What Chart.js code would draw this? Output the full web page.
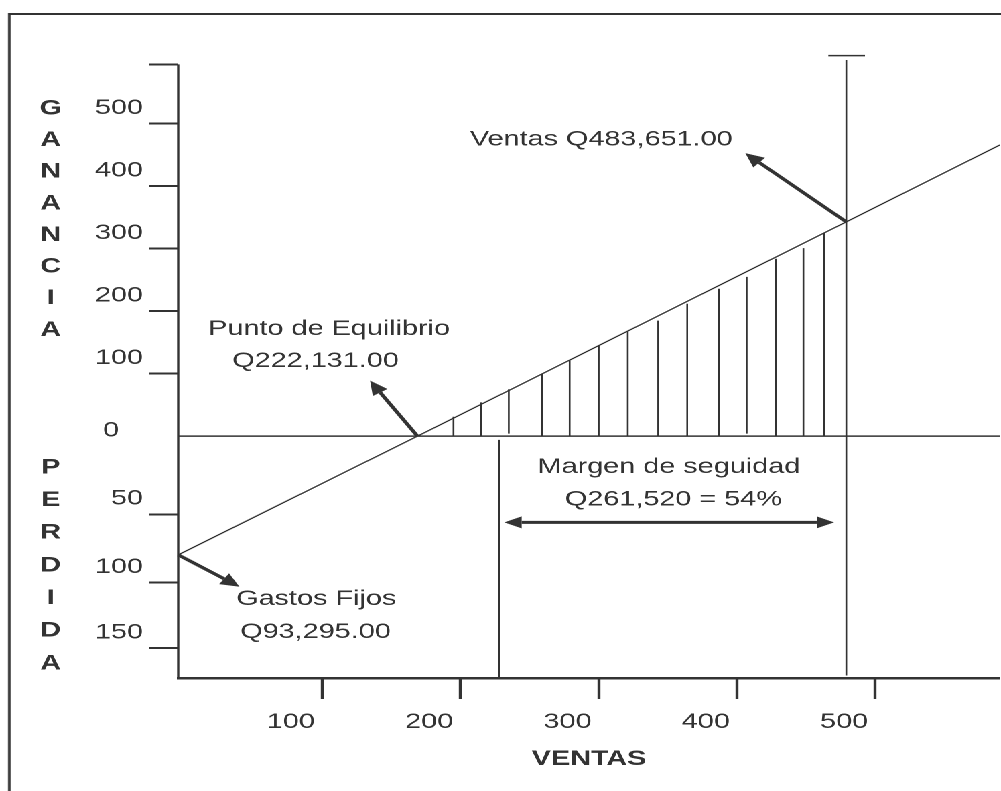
<!DOCTYPE html>
<html lang="es">
<head>
<meta charset="UTF-8">
<title>Punto de Equilibrio</title>
<script src="https://cdn.jsdelivr.net/npm/chart.js@4.4.1/dist/chart.umd.min.js"></script>
<style>
    body {
        margin: 0;
        background: #fff;
        overflow: hidden;
    }

    .page {
        position: relative;
        width: 1001px;
        height: 791px;
        overflow: hidden;
    }

    /* the original drawing is stretched sideways, so the whole chart is too */
    .stretch {
        position: absolute;
        left: 0;
        top: 0;
        width: 747px;
        height: 791px;
        transform: scaleX(1.34);
        transform-origin: 0 0;
    }

    .frame {
        position: absolute;
        left: 6.2px;
        top: 13.3px;
        width: 1000px;
        height: 1000px;
        border-left: 2.5px solid #333;
        border-top: 2px solid #333;
    }

    .chart-box {
        position: absolute;
        left: 0;
        top: 0;
        width: 747px;
        height: 791px;
    }
</style>
</head>
<body>
<div class="page">
    <div class="stretch">
        <div class="frame"></div>
        <div class="chart-box">
            <canvas id="equilibrio"></canvas>
        </div>
    </div>
</div>

<script>
    // ventas (miles de Q) en el eje x
    const salesTicks = [100, 200, 300, 400, 500];
    // ganancia arriba del cero, perdida abajo (la parte de perdida va en otra escala)
    const gainTicks = [100, 200, 300, 400, 500];
    const lossTicks = [50, 100, 150];
    const lossTickAt = [-125, -234, -339];

    // recta de ingresos / gastos
    const lineX = [-4, 169, 479, 590];
    const lineY = [-190, 0, 343, 466];

    // rayado de la zona de ganancia
    const hatchX = [195, 215, 235, 259, 279, 300, 321, 343, 364, 387, 407, 428, 448, 463];
    const hatchTop = [31, 54, 75, 100, 121, 146, 168, 185, 212, 236, 255, 284, 301, 326];
    const hatchBottom = [0, 0, 4, 0, 0, 0, 0, 0, 0, 0, 4, 0, 0, 0];

    const breakEvenX = 169;
    const salesX = 479;
    const marginStartX = 228;

    const ink = '#333';
    const fontName = '"Liberation Sans", Arial, sans-serif';
    const zeroLabelAt = -16;

    const yTickAt = lossTickAt.slice().reverse().concat([zeroLabelAt], gainTicks, [595]);
    const yTickText = lossTicks.slice().reverse().map(String).concat(['0   '], gainTicks.map(String), ['']);

    function seg(x0, y0, x1, y1) {
        return [{ x: x0, y: y0 }, { x: x1, y: y1 }];
    }

    const hatchData = [];
    hatchX.forEach((x, i) => {
        hatchData.push({ x: x, y: hatchBottom[i] }, { x: x, y: hatchTop[i] }, { x: x, y: null });
    });

    function drawArrow(ctx, x0, y0, x1, y1, len, half, both) {
        const a = Math.atan2(y1 - y0, x1 - x0);
        const cs = Math.cos(a), sn = Math.sin(a);
        ctx.beginPath();
        ctx.moveTo(both ? x0 + cs * len : x0, both ? y0 + sn * len : y0);
        ctx.lineTo(x1 - cs * len, y1 - sn * len);
        ctx.stroke();
        const head = (tx, ty, c, s) => {
            ctx.beginPath();
            ctx.moveTo(tx, ty);
            ctx.lineTo(tx - c * len - s * half, ty - s * len + c * half);
            ctx.lineTo(tx - c * len + s * half, ty - s * len - c * half);
            ctx.closePath();
            ctx.fill();
        };
        head(x1, y1, cs, sn);
        if (both) head(x0, y0, -cs, -sn);
    }

    const notes = {
        id: 'notes',
        afterDatasetsDraw(chart) {
            const { ctx, scales } = chart;
            const px = v => scales.x.getPixelForValue(v);
            const py = v => scales.y.getPixelForValue(v);
            ctx.save();
            ctx.fillStyle = ink;
            ctx.strokeStyle = ink;
            ctx.lineWidth = 3;

            drawArrow(ctx, px(breakEvenX), py(0), px(134.7), py(88.8), 14, 6.5);
            drawArrow(ctx, px(salesX), py(343), px(406), py(453), 14, 6.5);
            drawArrow(ctx, px(lineX[0]), py(lineY[0]), px(40.3), py(-241), 14, 6.5);
            drawArrow(ctx, px(231.7), py(-138), px(470.2), py(-138), 13, 6, true);

            ctx.font = '21.5px ' + fontName;
            ctx.textAlign = 'left';
            ctx.textBaseline = 'middle';
            const txt = [
                ['Punto de Equilibrio', 17.7, 171.7],
                ['Q222,131.00', 35, 120.3],
                ['Ventas Q483,651.00', 206.9, 475],
                ['Margen de seguidad', 255.8, -49.1],
                ['Q261,520 = 54%', 275.5, -101.6],
                ['Gastos Fijos', 37.9, -260.5],
                ['Q93,295.00', 40.8, -313.2]
            ];
            txt.forEach(t => ctx.fillText(t[0], px(t[1]), py(t[2])));

            // titulos verticales letra por letra
            ctx.font = 'bold 21.5px ' + fontName;
            ctx.textAlign = 'center';
            const lx = chart.chartArea.left - 95.2;
            const stack = (word, v0, v1) => {
                const y0 = py(v0), y1 = py(v1);
                const step = (y1 - y0) / (word.length - 1);
                word.split('').forEach((ch, i) => ctx.fillText(ch, lx, y0 + step * i));
            };
            stack('GANANCIA', 524.5, 170);
            stack('PERDIDA', -49.9, -363.7);
            ctx.restore();
        }
    };

    const plain = { borderColor: ink, pointRadius: 0, tension: 0, fill: false };

    const ctx1 = document.getElementById('equilibrio').getContext('2d');
    const chart1 = new Chart(ctx1, {
        type: 'line',
        data: {
            datasets: [
                Object.assign({ data: lineX.map((x, i) => ({ x: x, y: lineY[i] })), borderWidth: 1.2 }, plain),
                Object.assign({ data: hatchData, borderWidth: 1.3 }, plain),
                Object.assign({ data: seg(lineX[0], 0, lineX[3], 0), borderWidth: 1.5 }, plain),
                Object.assign({ data: seg(lineX[0], -387, lineX[0], 595), borderWidth: 1.7, clip: false }, plain),
                Object.assign({ data: seg(salesX, -383, salesX, 602), borderWidth: 1.3 }, plain),
                Object.assign({ data: seg(466, 609, 492.5, 609), borderWidth: 1.5 }, plain),
                Object.assign({ data: seg(marginStartX, -6, marginStartX, -387), borderWidth: 1.3 }, plain)
            ]
        },
        options: {
            responsive: true,
            maintainAspectRatio: false,
            animation: false,
            devicePixelRatio: 2,
            layout: { padding: { top: 50, left: 0, right: 0, bottom: 0 } },
            plugins: {
                legend: { display: false },
                tooltip: { enabled: false }
            },
            scales: {
                x: {
                    type: 'linear',
                    min: -4,
                    max: 590,
                    border: { display: true, color: ink, width: 2.5 },
                    grid: { drawOnChartArea: false, tickLength: 21, tickWidth: 2.2, tickColor: ink },
                    ticks: {
                        autoSkip: false,
                        maxRotation: 0,
                        padding: 10,
                        labelOffset: -23.3,
                        color: ink,
                        font: { family: fontName, size: 21.5 },
                        callback: v => String(v)
                    },
                    title: {
                        display: true,
                        text: 'VENTAS',
                        color: ink,
                        font: { family: fontName, size: 21.5, weight: 'bold' },
                        padding: { top: 0, bottom: 19 }
                    },
                    afterBuildTicks: s => { s.ticks = salesTicks.map(v => ({ value: v })); },
                    afterFit: s => { s.height = 113; }
                },
                y: {
                    type: 'linear',
                    min: -387,
                    max: 618,
                    border: { display: false },
                    grid: {
                        drawOnChartArea: false,
                        tickLength: 21.6,
                        tickWidth: 2,
                        tickColor: c => (c.tick && c.tick.value === zeroLabelAt) ? 'rgba(0,0,0,0)' : ink
                    },
                    ticks: {
                        autoSkip: false,
                        padding: 4.7,
                        labelOffset: -15.5,
                        color: ink,
                        font: { family: fontName, size: 21.5 },
                        callback: (v, i) => yTickText[i]
                    },
                    afterBuildTicks: s => { s.ticks = yTickAt.map(v => ({ value: v })); },
                    afterFit: s => { s.width = 133; }
                }
            }
        },
        plugins: [notes]
    });
</script>
</body>
</html>
